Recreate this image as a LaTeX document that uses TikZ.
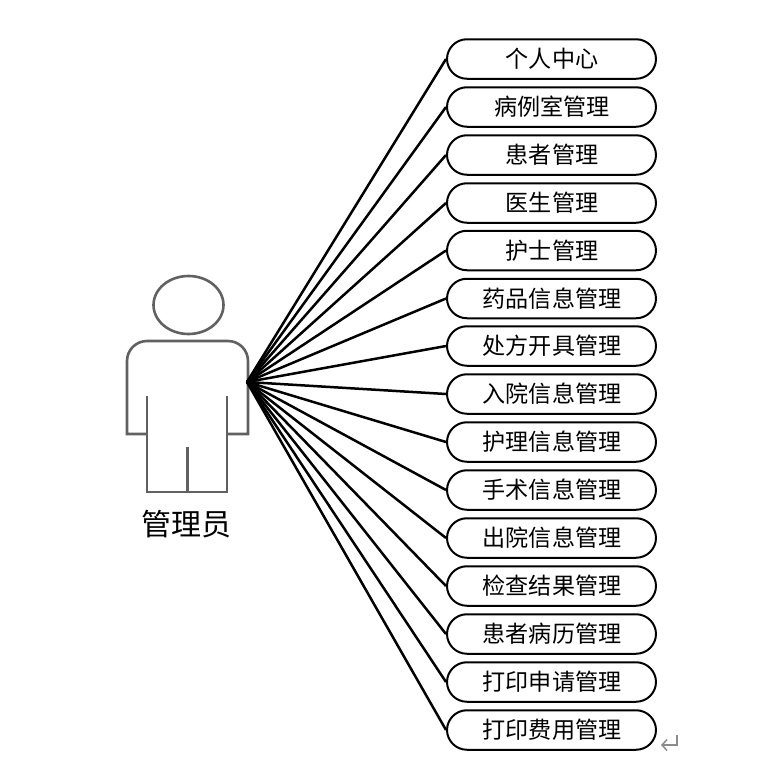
\documentclass[tikz,border=0pt]{standalone}
\usepackage{fontspec}
\usetikzlibrary{arrows.meta}
\setmainfont{Noto Sans CJK SC}
\tikzset{
  modulo/.style={draw, line width=2pt, rounded corners=19.9pt, minimum width=209pt, minimum height=39.5pt, inner sep=0pt, font=\fontsize{23.1}{23}\selectfont},
  linha/.style={line width=2.5pt},
  boneco/.style={draw=black!62, line width=2.6pt}
}
\begin{document}
\begin{tikzpicture}[>=latex, x=1pt, y=1pt]
\useasboundingbox (0,0) rectangle (761,-764);
% Ator
\draw[boneco] (188.5,-305) ellipse (35 and 29);
\draw[boneco] (147,-434) -- (127,-434) [rounded corners=20pt] -- (127,-341) -- (248,-341) [sharp corners] -- (248,-434) -- (227,-434);
\draw[boneco] (147,-396) -- (147,-492) -- (227,-492) -- (227,-396);
\draw[boneco] (187.5,-447) -- (187.5,-492);
\node[font=\fontsize{30}{30}\selectfont] (admin) at (186.5,-524) {管理员};
\coordinate (hub) at (247,-382);
% Modulos
\foreach \i/\y/\txt in {1/59/个人中心, 2/107/病例室管理, 3/155/患者管理, 4/203/医生管理, 5/250.5/护士管理, 6/298.5/药品信息管理, 7/346/处方开具管理, 8/394/入院信息管理, 9/442/护理信息管理, 10/490/手术信息管理, 11/538/出院信息管理, 12/586/检查结果管理, 13/634/患者病历管理, 14/682/打印申请管理, 15/730/打印费用管理} {
  \node[modulo] (m\i) at (551.5,-\y) {\hspace{1pt}\raisebox{-1.2pt}{\txt}};
  \draw[linha] (hub) -- (m\i.west);
}
% Marca de paragrafo
\coordinate (pa) at (677,-735);
\coordinate (pb) at (677,-745);
\coordinate (pc) at (661,-745);
\draw[black!45, line width=1.5pt, -{Straight Barb[length=5pt,width=11pt]}] (pa) -- (pb) -- (pc);
\end{tikzpicture}
\end{document}
